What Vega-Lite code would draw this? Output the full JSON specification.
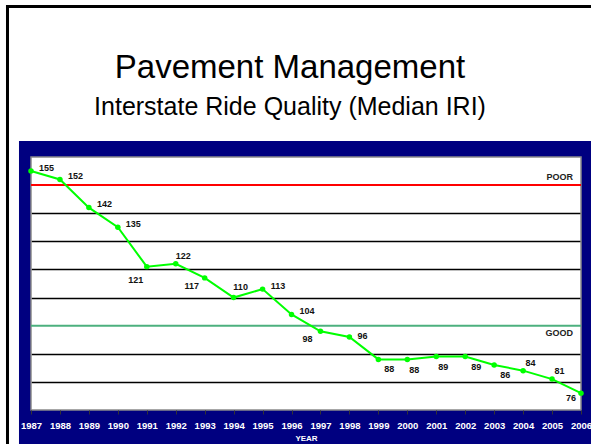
{
  "$schema": "https://vega.github.io/schema/vega-lite/v6.json",
  "width": 550,
  "height": 253,
  "autosize": "none",
  "padding": {"left": 31, "top": 157, "right": 10, "bottom": 34},
  "background": "white",
  "config": {"view": {"stroke": null}, "font": "Liberation Sans"},
  "title": {
    "text": "Pavement Management",
    "subtitle": "Interstate Ride Quality (Median IRI)",
    "anchor": "middle",
    "font": "Liberation Sans",
    "fontSize": 33,
    "fontWeight": "normal",
    "color": "black",
    "subtitleFont": "Liberation Sans",
    "subtitleFontSize": 25,
    "subtitleColor": "black",
    "subtitlePadding": 10,
    "offset": -117,
    "dx": -16
  },
  "data": {
    "values": [
      {"year": 1987, "iri": 155}, {"year": 1988, "iri": 152}, {"year": 1989, "iri": 142},
      {"year": 1990, "iri": 135}, {"year": 1991, "iri": 121}, {"year": 1992, "iri": 122},
      {"year": 1993, "iri": 117}, {"year": 1994, "iri": 110}, {"year": 1995, "iri": 113},
      {"year": 1996, "iri": 104}, {"year": 1997, "iri": 98}, {"year": 1998, "iri": 96},
      {"year": 1999, "iri": 88}, {"year": 2000, "iri": 88}, {"year": 2001, "iri": 89},
      {"year": 2002, "iri": 89}, {"year": 2003, "iri": 86}, {"year": 2004, "iri": 84},
      {"year": 2005, "iri": 81}, {"year": 2006, "iri": 76}
    ]
  },
  "layer": [
    {
      "data": {"values": [{}]},
      "mark": {"type": "rect", "fill": "#000080"},
      "encoding": {
        "x": {"datum": 1986.585, "type": "quantitative", "scale": {"domain": [1987, 2006], "nice": false, "zero": false}},
        "x2": {"datum": 2006.7},
        "y": {"datum": 165.7, "type": "quantitative", "scale": {"domain": [70, 160], "nice": false, "zero": false}},
        "y2": {"datum": 160}
      }
    },
    {
      "data": {"values": [{}]},
      "mark": {"type": "rect", "fill": "#000080"},
      "encoding": {
        "x": {"datum": 1986.585, "type": "quantitative", "scale": {"domain": [1987, 2006], "nice": false, "zero": false}},
        "x2": {"datum": 2006.7},
        "y": {"datum": 70, "type": "quantitative", "scale": {"domain": [70, 160], "nice": false, "zero": false}},
        "y2": {"datum": 55}
      }
    },
    {
      "data": {"values": [{}]},
      "mark": {"type": "rect", "fill": "#000080"},
      "encoding": {
        "x": {"datum": 1986.585, "type": "quantitative", "scale": {"domain": [1987, 2006], "nice": false, "zero": false}},
        "x2": {"datum": 1987},
        "y": {"datum": 70, "type": "quantitative", "scale": {"domain": [70, 160], "nice": false, "zero": false}},
        "y2": {"datum": 160}
      }
    },
    {
      "data": {"values": [{}]},
      "mark": {"type": "rect", "fill": "#000080"},
      "encoding": {
        "x": {"datum": 2006, "type": "quantitative", "scale": {"domain": [1987, 2006], "nice": false, "zero": false}},
        "x2": {"datum": 2006.7},
        "y": {"datum": 70, "type": "quantitative", "scale": {"domain": [70, 160], "nice": false, "zero": false}},
        "y2": {"datum": 160}
      }
    },
    {
      "data": {"values": [{}]},
      "mark": {"type": "rect", "fill": "transparent", "stroke": "#8a8a8a", "strokeWidth": 1.5},
      "encoding": {
        "x": {"datum": 1987, "type": "quantitative", "scale": {"domain": [1987, 2006], "nice": false, "zero": false}},
        "x2": {"datum": 2006},
        "y": {"datum": 70, "type": "quantitative", "scale": {"domain": [70, 160], "nice": false, "zero": false}},
        "y2": {"datum": 160}
      }
    },
    {
      "data": {"values": [{}]},
      "mark": {"type": "rule", "color": "black", "strokeWidth": 3},
      "encoding": {
        "x": {"datum": 1986.188, "type": "quantitative", "scale": {"domain": [1987, 2006], "nice": false, "zero": false}},
        "y": {"datum": 214.1, "type": "quantitative", "scale": {"domain": [70, 160], "nice": false, "zero": false}},
        "y2": {"datum": 55}
      }
    },
    {
      "data": {"values": [{}]},
      "mark": {"type": "rule", "color": "black", "strokeWidth": 3},
      "encoding": {
        "y": {"datum": 213.54, "type": "quantitative", "scale": {"domain": [70, 160], "nice": false, "zero": false}},
        "x": {"datum": 1986.136, "type": "quantitative", "scale": {"domain": [1987, 2006], "nice": false, "zero": false}},
        "x2": {"datum": 2006.7}
      }
    },
    {
      "data": {"values": [{}]},
      "mark": {"type": "rule", "color": "#ff0000", "strokeWidth": 2},
      "encoding": {
        "y": {"datum": 150, "type": "quantitative", "scale": {"domain": [70, 160], "nice": false, "zero": false}},
        "x": {"datum": 1987, "type": "quantitative", "scale": {"domain": [1987, 2006], "nice": false, "zero": false}},
        "x2": {"datum": 2006}
      }
    },
    {
      "data": {"values": [{}]},
      "mark": {"type": "rule", "color": "#4cb07e", "strokeWidth": 2},
      "encoding": {
        "y": {"datum": 100, "type": "quantitative", "scale": {"domain": [70, 160], "nice": false, "zero": false}},
        "x": {"datum": 1987, "type": "quantitative", "scale": {"domain": [1987, 2006], "nice": false, "zero": false}},
        "x2": {"datum": 2006}
      }
    },
    {
      "data": {"values": [{}]},
      "mark": {"type": "text", "text": "POOR", "align": "right", "baseline": "bottom", "dx": -8, "dy": -3, "fontSize": 9, "fontWeight": "bold", "color": "#222222"},
      "encoding": {
        "x": {"datum": 2006, "type": "quantitative", "scale": {"domain": [1987, 2006], "nice": false, "zero": false}},
        "y": {"datum": 150, "type": "quantitative", "scale": {"domain": [70, 160], "nice": false, "zero": false}}
      }
    },
    {
      "data": {"values": [{}]},
      "mark": {"type": "text", "text": "GOOD", "align": "right", "baseline": "top", "dx": -8, "dy": 3.5, "fontSize": 9, "fontWeight": "bold", "color": "#222222"},
      "encoding": {
        "x": {"datum": 2006, "type": "quantitative", "scale": {"domain": [1987, 2006], "nice": false, "zero": false}},
        "y": {"datum": 100, "type": "quantitative", "scale": {"domain": [70, 160], "nice": false, "zero": false}}
      }
    },
    {
      "mark": {"type": "line", "color": "#00ff00", "strokeWidth": 2, "point": {"filled": true, "size": 30, "color": "#00ff00"}},
      "encoding": {
        "x": {
          "field": "year", "type": "quantitative",
          "scale": {"domain": [1987, 2006], "nice": false, "zero": false},
          "axis": {
            "values": [1987, 1988, 1989, 1990, 1991, 1992, 1993, 1994, 1995, 1996, 1997, 1998, 1999, 2000, 2001, 2002, 2003, 2004, 2005, 2006],
            "tickCount": 20, "tickMinStep": 1,
            "format": "d", "labelColor": "white", "labelFont": "Liberation Sans", "labelFontWeight": "bold", "labelFontSize": 9.5,
            "labelFlush": false, "labelOverlap": false, "labelPadding": 6,
            "tickSize": 4, "tickColor": "#333333", "domain": false, "grid": false,
            "title": "YEAR", "titleColor": "white", "titleFont": "Liberation Sans", "titleFontSize": 8, "titleFontWeight": "bold", "titlePadding": 5,
            "zindex": 1
          }
        },
        "y": {
          "field": "iri", "type": "quantitative",
          "scale": {"domain": [70, 160], "nice": false, "zero": false},
          "axis": {"values": [80, 90, 110, 120, 130, 140], "grid": true, "gridColor": "black", "gridWidth": 1.3, "labels": false, "ticks": false, "domain": false, "title": null, "zindex": 0}
        }
      }
    },
    {
      "transform": [{"filter": {"field": "year", "oneOf": [1987, 1988, 1989, 1990, 1995, 1996]}}],
      "mark": {"type": "text", "align": "center", "baseline": "middle", "dx": 15.5, "dy": -3.5, "fontSize": 9, "fontWeight": "bold", "color": "#111111"},
      "encoding": {
        "x": {"field": "year", "type": "quantitative", "scale": {"domain": [1987, 2006], "nice": false, "zero": false}},
        "y": {"field": "iri", "type": "quantitative", "scale": {"domain": [70, 160], "nice": false, "zero": false}},
        "text": {"field": "iri", "type": "quantitative"}
      }
    },
    {
      "transform": [{"filter": {"field": "year", "oneOf": [1998]}}],
      "mark": {"type": "text", "align": "center", "baseline": "middle", "dx": 13, "dy": -1, "fontSize": 9, "fontWeight": "bold", "color": "#111111"},
      "encoding": {
        "x": {"field": "year", "type": "quantitative", "scale": {"domain": [1987, 2006], "nice": false, "zero": false}},
        "y": {"field": "iri", "type": "quantitative", "scale": {"domain": [70, 160], "nice": false, "zero": false}},
        "text": {"field": "iri", "type": "quantitative"}
      }
    },
    {
      "transform": [{"filter": {"field": "year", "oneOf": [1991]}}],
      "mark": {"type": "text", "align": "center", "baseline": "middle", "dx": -11, "dy": 13, "fontSize": 9, "fontWeight": "bold", "color": "#111111"},
      "encoding": {
        "x": {"field": "year", "type": "quantitative", "scale": {"domain": [1987, 2006], "nice": false, "zero": false}},
        "y": {"field": "iri", "type": "quantitative", "scale": {"domain": [70, 160], "nice": false, "zero": false}},
        "text": {"field": "iri", "type": "quantitative"}
      }
    },
    {
      "transform": [{"filter": {"field": "year", "oneOf": [1993, 1997]}}],
      "mark": {"type": "text", "align": "center", "baseline": "middle", "dx": -13, "dy": 8, "fontSize": 9, "fontWeight": "bold", "color": "#111111"},
      "encoding": {
        "x": {"field": "year", "type": "quantitative", "scale": {"domain": [1987, 2006], "nice": false, "zero": false}},
        "y": {"field": "iri", "type": "quantitative", "scale": {"domain": [70, 160], "nice": false, "zero": false}},
        "text": {"field": "iri", "type": "quantitative"}
      }
    },
    {
      "transform": [{"filter": {"field": "year", "oneOf": [2006]}}],
      "mark": {"type": "text", "align": "center", "baseline": "middle", "dx": -10, "dy": 4.5, "fontSize": 9, "fontWeight": "bold", "color": "#111111"},
      "encoding": {
        "x": {"field": "year", "type": "quantitative", "scale": {"domain": [1987, 2006], "nice": false, "zero": false}},
        "y": {"field": "iri", "type": "quantitative", "scale": {"domain": [70, 160], "nice": false, "zero": false}},
        "text": {"field": "iri", "type": "quantitative"}
      }
    },
    {
      "transform": [{"filter": {"field": "year", "oneOf": [1992, 2004, 2005]}}],
      "mark": {"type": "text", "align": "center", "baseline": "middle", "dx": 7.5, "dy": -8, "fontSize": 9, "fontWeight": "bold", "color": "#111111"},
      "encoding": {
        "x": {"field": "year", "type": "quantitative", "scale": {"domain": [1987, 2006], "nice": false, "zero": false}},
        "y": {"field": "iri", "type": "quantitative", "scale": {"domain": [70, 160], "nice": false, "zero": false}},
        "text": {"field": "iri", "type": "quantitative"}
      }
    },
    {
      "transform": [{"filter": {"field": "year", "oneOf": [1994]}}],
      "mark": {"type": "text", "align": "center", "baseline": "middle", "dx": 7, "dy": -11, "fontSize": 9, "fontWeight": "bold", "color": "#111111"},
      "encoding": {
        "x": {"field": "year", "type": "quantitative", "scale": {"domain": [1987, 2006], "nice": false, "zero": false}},
        "y": {"field": "iri", "type": "quantitative", "scale": {"domain": [70, 160], "nice": false, "zero": false}},
        "text": {"field": "iri", "type": "quantitative"}
      }
    },
    {
      "transform": [{"filter": {"field": "year", "oneOf": [1999, 2002, 2003]}}],
      "mark": {"type": "text", "align": "center", "baseline": "middle", "dx": 11, "dy": 10, "fontSize": 9, "fontWeight": "bold", "color": "#111111"},
      "encoding": {
        "x": {"field": "year", "type": "quantitative", "scale": {"domain": [1987, 2006], "nice": false, "zero": false}},
        "y": {"field": "iri", "type": "quantitative", "scale": {"domain": [70, 160], "nice": false, "zero": false}},
        "text": {"field": "iri", "type": "quantitative"}
      }
    },
    {
      "transform": [{"filter": {"field": "year", "oneOf": [2000, 2001]}}],
      "mark": {"type": "text", "align": "center", "baseline": "middle", "dx": 7, "dy": 10.5, "fontSize": 9, "fontWeight": "bold", "color": "#111111"},
      "encoding": {
        "x": {"field": "year", "type": "quantitative", "scale": {"domain": [1987, 2006], "nice": false, "zero": false}},
        "y": {"field": "iri", "type": "quantitative", "scale": {"domain": [70, 160], "nice": false, "zero": false}},
        "text": {"field": "iri", "type": "quantitative"}
      }
    }
  ]
}
